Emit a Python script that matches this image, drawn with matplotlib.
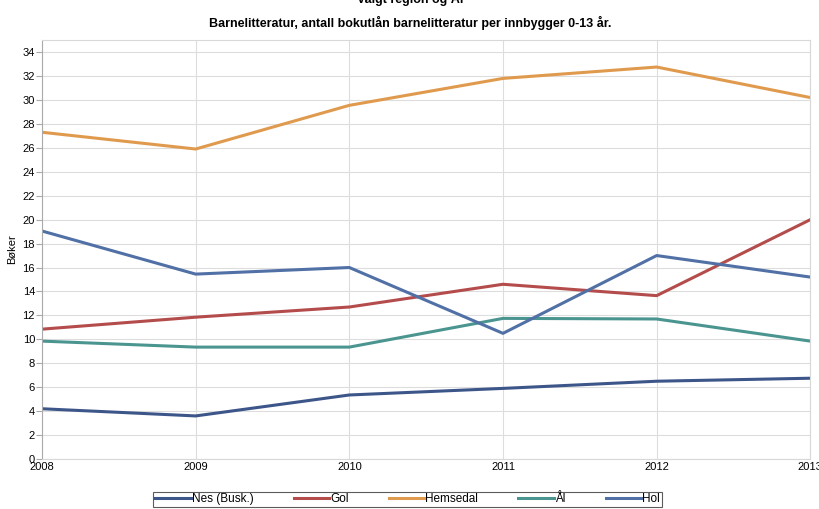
import matplotlib
matplotlib.use('Agg')
import matplotlib.pyplot as plt

# Data lest av figuren
aar = [2008, 2009, 2010, 2011, 2012, 2013]
nes = [4.2, 3.6, 5.35, 5.9, 6.5, 6.75]
gol = [10.85, 11.85, 12.7, 14.6, 13.65, 20.0]
hemsedal = [27.3, 25.9, 29.55, 31.8, 32.75, 30.2]
aal = [9.85, 9.35, 9.35, 11.75, 11.7, 9.85]
hol = [19.05, 15.45, 16.0, 10.5, 17.0, 15.2]

serier = [
    ('Nes (Busk.)', nes, '#3d5689'),
    ('Gol', gol, '#b44c4c'),
    ('Hemsedal', hemsedal, '#e09a4e'),
    ('Ål', aal, '#4b9590'),
    ('Hol', hol, '#5070a6'),
]

plt.rcParams['font.family'] = ['Liberation Sans Narrow', 'Liberation Sans', 'DejaVu Sans']

fig = plt.figure(figsize=(8.2, 5.09), dpi=100)
ax = fig.add_axes([0.0512, 0.0982, 0.937, 0.823])

for navn, verdier, farge in serier:
    ax.plot(aar, verdier, color=farge, linewidth=2.2, label=navn)

ax.set_xlim(2008, 2013)
ax.set_ylim(0, 35)
ax.set_xticks(aar)
ax.set_yticks(range(0, 35, 2))
ax.grid(True, color='#dddddd', linewidth=0.8)
ax.set_axisbelow(True)
for s in ax.spines.values():
    s.set_color('#d8d8d8')
ax.spines['left'].set_color('#aaaaaa')
ax.tick_params(axis='y', length=4, color='#aaaaaa', labelsize=8, pad=1)
ax.tick_params(axis='x', length=0, labelsize=8, pad=2)
ax.set_ylabel('Bøker', fontsize=8)

fig.text(0.5, 0.955, 'Barnelitteratur, antall bokutlån barnelitteratur per innbygger 0-13 år.',
         ha='center', va='center', fontsize=9, fontweight='bold')
fig.text(0.5, 1.003, 'Valgt region og Ål', ha='center', va='center', fontsize=9, fontweight='bold')

leg = fig.legend(loc='center', bbox_to_anchor=(0.497, 0.019), ncol=5, fontsize=8.5,
                 frameon=True, fancybox=False, edgecolor='#333333',
                 handlelength=3.0, handletextpad=0.1, columnspacing=3.4,
                 borderpad=0.15)
leg.get_frame().set_linewidth(0.8)

fig.savefig('out.png', dpi=100)
